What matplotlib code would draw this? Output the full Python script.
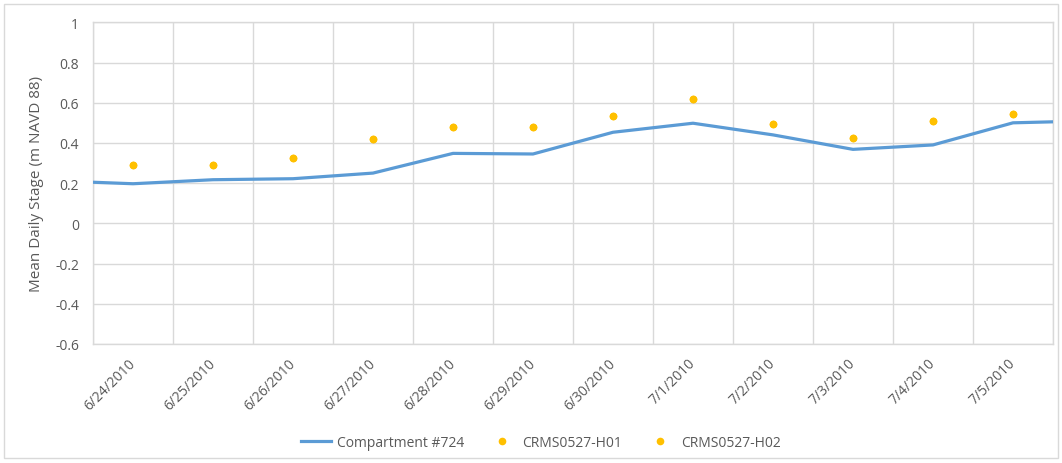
import matplotlib
matplotlib.use("Agg")
import matplotlib.pyplot as plt
from matplotlib.patches import Rectangle
from matplotlib.ticker import FixedLocator, FuncFormatter, MultipleLocator

# categories (one per day)
dates = ["6/24/2010", "6/25/2010", "6/26/2010", "6/27/2010", "6/28/2010",
         "6/29/2010", "6/30/2010", "7/1/2010", "7/2/2010", "7/3/2010",
         "7/4/2010", "7/5/2010"]

# modelled compartment stage, including the day before and after the window
# (those two are clipped at the plot edges like in the original)
comp_days = list(range(-1, 13))
comp_stage = [0.212, 0.197, 0.217, 0.222, 0.25, 0.348, 0.345, 0.453, 0.498,
              0.44, 0.368, 0.39, 0.5, 0.51]

h01_stage = [0.288, 0.29, 0.323, 0.42, 0.477, 0.477, 0.532, 0.618, 0.495,
             0.425, 0.507, 0.545]
h02_stage = [0.288, 0.29, 0.323, 0.42, 0.477, 0.477, 0.532, 0.618, 0.495,
             0.425, 0.507, 0.545]

TEXT = "#595959"
GRID = "#D9D9D9"
BLUE = "#5B9BD5"
ORANGE = "#FFC000"

plt.rcParams["font.family"] = ["Open Sans", "DejaVu Sans"]

fig = plt.figure(figsize=(10.62, 4.64), dpi=100)
ax = fig.add_axes([0.0876, 0.2565, 0.9039, 0.6933])

x = list(range(len(dates)))
ax.plot(comp_days, comp_stage, color=BLUE, linewidth=2.3,
        solid_joinstyle="round", label="Compartment #724", zorder=3)
ax.plot(x, h01_stage, linestyle="none", marker="o", markersize=5.5,
        color=ORANGE, markeredgewidth=0, label="CRMS0527-H01", zorder=4)
ax.plot(x, h02_stage, linestyle="none", marker="o", markersize=5.5,
        color=ORANGE, markeredgewidth=0, label="CRMS0527-H02", zorder=4)

ax.set_xlim(-0.5, len(dates) - 0.5)
ax.set_ylim(-0.6, 1.0)
ax.yaxis.set_major_locator(MultipleLocator(0.2))
ax.yaxis.set_major_formatter(FuncFormatter(lambda v, _: f"{round(v, 1):g}"))
ax.set_xticks(x)
ax.set_xticklabels(dates, rotation=45, ha="right", va="center",
                   rotation_mode="anchor")
# vertical gridlines sit between the day categories
ax.xaxis.set_minor_locator(FixedLocator([i - 0.5 for i in range(len(dates) + 1)]))
ax.tick_params(axis="both", which="both", length=0, colors=TEXT, labelsize=10)
ax.tick_params(axis="x", which="major", pad=12)
ax.tick_params(axis="y", pad=10)
ax.grid(True, axis="y", which="major", color=GRID, linewidth=1.0)
ax.grid(True, axis="x", which="minor", color=GRID, linewidth=1.0)
ax.set_axisbelow(True)
for spine in ax.spines.values():
    spine.set_color(GRID)
    spine.set_linewidth(1.0)

ax.set_ylabel("Mean Daily Stage (m NAVD 88)", color=TEXT, fontsize=11, labelpad=8)

fig.legend(loc="center", bbox_to_anchor=(0.509, 0.045), ncol=3, frameon=False,
           fontsize=10, labelcolor=TEXT, handlelength=2.2, columnspacing=1.6,
           handletextpad=0.4)

fig.patches.append(Rectangle((0.004, 0.01), 0.992, 0.98, transform=fig.transFigure,
                             fill=False, edgecolor=GRID, linewidth=1.0))

fig.savefig("out.png", dpi=100)
